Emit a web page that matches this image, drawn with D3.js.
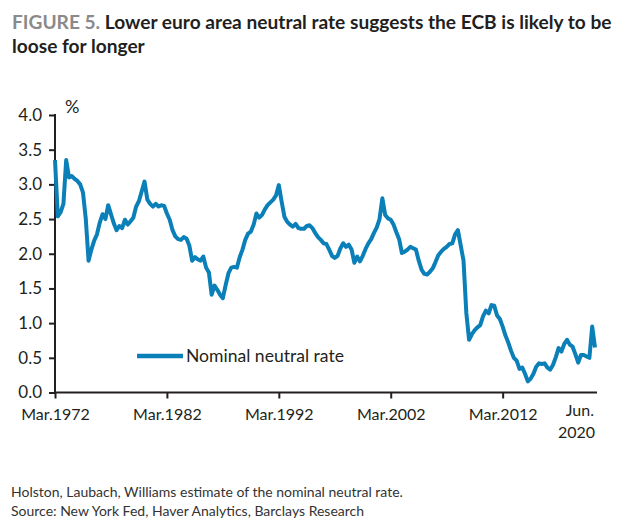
<!DOCTYPE html>
<html>
<head>
<meta charset="utf-8">
<script src="https://cdn.jsdelivr.net/npm/d3@7"></script>
<style>
  html, body { margin: 0; padding: 0; background: #fff; }
  svg { display: block; }
  text { font-family: Lato, "Open Sans", sans-serif; }
</style>
</head>
<body>
<svg id="chart" width="624" height="530"></svg>
<script>
// ---- data (quarterly, Mar.1972 .. Jun.2020) ----
const seriesName = "Nominal neutral rate";
const startYear = 1972;
const nominalNeutralRate = [
  3.35, 2.54, 2.60, 2.72,   // 1972
  3.35, 3.10, 3.12, 3.08,   // 1973
  3.05, 3.00, 2.88, 2.50,   // 1974
  1.90, 2.06, 2.19, 2.28,   // 1975
  2.45, 2.57, 2.50, 2.70,   // 1976
  2.57, 2.44, 2.34, 2.40,   // 1977
  2.37, 2.49, 2.42, 2.47,   // 1978
  2.52, 2.68, 2.76, 2.90,   // 1979
  3.04, 2.78, 2.72, 2.68,   // 1980
  2.72, 2.68, 2.70, 2.69,   // 1981
  2.58, 2.49, 2.34, 2.25,   // 1982
  2.21, 2.20, 2.24, 2.22,   // 1983
  2.12, 1.90, 1.95, 1.92,   // 1984
  1.90, 1.96, 1.80, 1.73,   // 1985
  1.41, 1.54, 1.48, 1.41,   // 1986
  1.36, 1.55, 1.72, 1.80,   // 1987
  1.81, 1.80, 1.95, 2.06,   // 1988
  2.20, 2.29, 2.32, 2.42,   // 1989
  2.58, 2.52, 2.56, 2.64,   // 1990
  2.70, 2.74, 2.78, 2.84,   // 1991
  2.99, 2.75, 2.53, 2.46,   // 1992
  2.42, 2.39, 2.43, 2.37,   // 1993
  2.36, 2.36, 2.40, 2.41,   // 1994
  2.37, 2.30, 2.24, 2.20,   // 1995
  2.15, 2.14, 2.06, 1.97,   // 1996
  1.94, 1.97, 2.08, 2.15,   // 1997
  2.10, 2.13, 2.06, 1.87,   // 1998
  1.96, 1.89, 1.97, 2.07,   // 1999
  2.15, 2.21, 2.30, 2.38,   // 2000
  2.50, 2.80, 2.56, 2.51,   // 2001
  2.49, 2.42, 2.31, 2.21,   // 2002
  2.01, 2.03, 2.06, 2.10,   // 2003
  2.08, 2.06, 1.90, 1.77,   // 2004
  1.71, 1.70, 1.74, 1.79,   // 2005
  1.88, 1.98, 2.03, 2.07,   // 2006
  2.10, 2.14, 2.15, 2.28,   // 2007
  2.34, 2.12, 1.90, 1.15,   // 2008
  0.76, 0.84, 0.90, 0.94,   // 2009
  0.97, 1.10, 1.18, 1.14,   // 2010
  1.26, 1.25, 1.11, 1.06,   // 2011
  0.95, 0.82, 0.72, 0.60,   // 2012
  0.50, 0.46, 0.34, 0.36,   // 2013
  0.27, 0.16, 0.20, 0.27,   // 2014
  0.37, 0.42, 0.41, 0.42,   // 2015
  0.36, 0.33, 0.40, 0.51,   // 2016
  0.64, 0.59, 0.70, 0.76,   // 2017
  0.69, 0.66, 0.55, 0.43,   // 2018
  0.54, 0.54, 0.52, 0.50,   // 2019
  0.95, 0.65                // 2020
];
const yTicks = [0, 0.5, 1, 1.5, 2, 2.5, 3, 3.5, 4];
const xTickYears = [1972, 1982, 1992, 2002, 2012];
const xTickLabels = ["Mar.1972", "Mar.1982", "Mar.1992", "Mar.2002", "Mar.2012"];
const endLabel = ["Jun.", "2020"];
const titlePrefix = "FIGURE 5.";
const titleLine1 = "Lower euro area neutral rate suggests the ECB is likely to be";
const titleLine2 = "loose for longer";
const unitLabel = "%";
const notes = [
  "Holston, Laubach, Williams estimate of the nominal neutral rate.",
  "Source: New York Fed, Haver Analytics, Barclays Research"
];

// ---- build ----
const data = nominalNeutralRate.map((v, i) => ({ date: new Date(startYear, 2 + 3 * i, 1), value: v }));
const svg = d3.select("#chart");
const ink = "#231f20";
const blue = "#0a7fb8";

function fitWidth(sel, base, target) {
  const w = sel.node().getComputedTextLength();
  const s = base * target / w;
  sel.attr("font-size", s);
  return s;
}

const x = d3.scaleTime()
  .domain([data[0].date, data[data.length - 1].date])
  .range([55, 595]);
const y = d3.scaleLinear().domain([0, 4]).range([392.5, 115]);

// title
const t = svg.append("text").attr("x", 12).attr("y", 29)
  .attr("font-weight", "bold").attr("font-size", 20).attr("fill", ink);
t.append("tspan").attr("fill", "#8a8a8a").text(titlePrefix);
t.append("tspan").text(" " + titleLine1);
const t2 = svg.append("text").attr("x", 12).attr("y", 53)
  .attr("font-weight", "bold").attr("font-size", 20).attr("fill", ink).text(titleLine2);
const fs = fitWidth(t, 20, 600);
t2.attr("font-size", fs);

// y axis
const yAxis = d3.axisLeft(y).tickValues(yTicks).tickFormat(d3.format(".1f")).tickSize(6).tickPadding(7);
const gy = svg.append("g").attr("transform", "translate(55,0)").call(yAxis);
gy.select(".domain").remove();
gy.selectAll(".tick line").attr("stroke", ink).attr("stroke-width", 2);
gy.selectAll(".tick text").attr("font-size", 17).attr("fill", ink)
  .attr("font-family", "Lato, 'Open Sans', sans-serif");
svg.append("line").attr("x1", 55).attr("x2", 55).attr("y1", y(4) - 1).attr("y2", y(0) + 1)
  .attr("stroke", ink).attr("stroke-width", 2);

// x axis
const xAxis = d3.axisBottom(x)
  .tickValues(xTickYears.map(yr => new Date(yr, 2, 1)))
  .tickFormat((d, i) => xTickLabels[i]).tickSize(6).tickPadding(10);
const gx = svg.append("g").attr("transform", `translate(0,${y(0)})`).call(xAxis);
gx.select(".domain").remove();
gx.selectAll(".tick line").attr("stroke", ink).attr("stroke-width", 2);
gx.selectAll(".tick text").attr("font-size", 16).attr("fill", ink)
  .attr("font-family", "Lato, 'Open Sans', sans-serif");
svg.append("line").attr("x1", 54).attr("x2", 597).attr("y1", y(0)).attr("y2", y(0))
  .attr("stroke", ink).attr("stroke-width", 2);

// end label
svg.append("text").attr("x", 594).attr("y", 416).attr("text-anchor", "end")
  .attr("font-size", 16).attr("fill", ink).text(endLabel[0]);
svg.append("text").attr("x", 595).attr("y", 438).attr("text-anchor", "end")
  .attr("font-size", 16).attr("fill", ink).text(endLabel[1]);

// unit
svg.append("text").attr("x", 65).attr("y", 113).attr("font-size", 18).attr("fill", ink).text(unitLabel);

// line
const line = d3.line().x(d => x(d.date)).y(d => y(d.value)).curve(d3.curveLinear);
svg.append("path").datum(data).attr("d", line)
  .attr("fill", "none").attr("stroke", blue).attr("stroke-width", 4)
  .attr("stroke-linejoin", "round").attr("stroke-linecap", "butt");

// legend
svg.append("line").attr("x1", 137).attr("x2", 183).attr("y1", 356).attr("y2", 356)
  .attr("stroke", blue).attr("stroke-width", 4.5);
const lt = svg.append("text").attr("x", 186).attr("y", 361.5).attr("font-size", 16).attr("fill", ink).text(seriesName);
fitWidth(lt, 16, 158);

// notes
notes.forEach((n, i) => {
  svg.append("text").attr("x", 11).attr("y", 497 + i * 19).attr("font-size", 14)
    .attr("fill", "#333").text(n);
});
</script>
</body>
</html>
